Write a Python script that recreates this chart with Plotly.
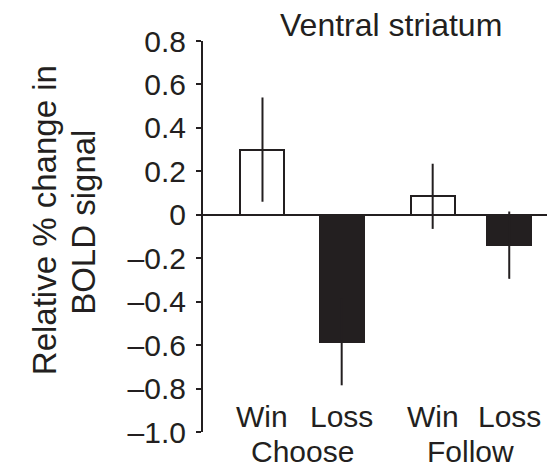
import plotly.graph_objects as go

# ---- data ----
conditions = ["Win", "Loss", "Win", "Loss"]
groups = ["Choose", "Follow"]
values = [0.30, -0.585, 0.085, -0.14]
errors = [0.24, 0.20, 0.15, 0.155]
tick_vals = [0.8, 0.6, 0.4, 0.2, 0.0, -0.2, -0.4, -0.6, -0.8, -1.0]
tick_text = ["0.8", "0.6", "0.4", "0.2", "0", "\u20130.2", "\u20130.4", "\u20130.6", "\u20130.8", "\u20131.0"]

# ---- layout helpers (positions / styles) ----
positions = [1.69, 3.94, 6.525, 8.70]
bar_width = 1.25
ink = "#231f20"
fills = ["white", ink, "white", ink]
font = "Liberation Sans, Arial, Helvetica, sans-serif"

fig = go.Figure()
fig.add_trace(go.Bar(
    x=positions, y=values, width=bar_width,
    marker=dict(color=fills, line=dict(color=ink, width=2)),
    error_y=dict(type="data", array=errors, visible=True,
                 thickness=2, width=0, color=ink),
    showlegend=False, hoverinfo="skip",
))

# page body has an 8px margin, so the figure is sized to fill the rest of the window
fig.update_layout(
    width=547, height=459,
    margin=dict(l=195, r=0, t=33, b=35),
    paper_bgcolor="white", plot_bgcolor="white",
    font=dict(family=font, color=ink),
    bargap=0,
    xaxis=dict(range=[0, 10], visible=False, fixedrange=True),
    yaxis=dict(
        range=[-1.0, 0.8], tickvals=tick_vals, ticktext=tick_text,
        tickfont=dict(size=30, color=ink, family=font),
        ticks="outside", ticklen=5, tickwidth=2, tickcolor=ink,
        ticklabelstandoff=4,
        showline=True, linecolor=ink, linewidth=2,
        showgrid=False,
        zeroline=True, zerolinecolor=ink, zerolinewidth=1.5,
        fixedrange=True, automargin=False,
    ),
)

ann = []
# title
ann.append(dict(text="Ventral striatum", xref="paper", yref="paper",
                x=0.534, y=1.041, xanchor="center", yanchor="middle",
                showarrow=False, font=dict(size=32, color=ink, family=font)))
# y-axis title (two lines)
ann.append(dict(text="Relative % change in", xref="paper", yref="paper",
                x=-0.448, y=0.5425, xanchor="center", yanchor="middle",
                textangle=-90, showarrow=False,
                font=dict(size=33, color=ink, family=font)))
ann.append(dict(text="BOLD signal", xref="paper", yref="paper",
                x=-0.3415, y=0.537, xanchor="center", yanchor="middle",
                textangle=-90, showarrow=False,
                font=dict(size=33, color=ink, family=font)))
# category labels
for xp, lab in zip(positions, conditions):
    ann.append(dict(text=lab, xref="x", yref="paper", x=xp, y=0.0384,
                    xanchor="center", yanchor="middle", showarrow=False,
                    font=dict(size=30, color=ink, family=font)))
for gi, g in enumerate(groups):
    xc = (positions[2 * gi] + positions[2 * gi + 1]) / 2
    ann.append(dict(text=g, xref="x", yref="paper", x=xc, y=-0.05,
                    xanchor="center", yanchor="middle", showarrow=False,
                    font=dict(size=30, color=ink, family=font)))
fig.update_layout(annotations=ann)

fig.write_html("out.html")
